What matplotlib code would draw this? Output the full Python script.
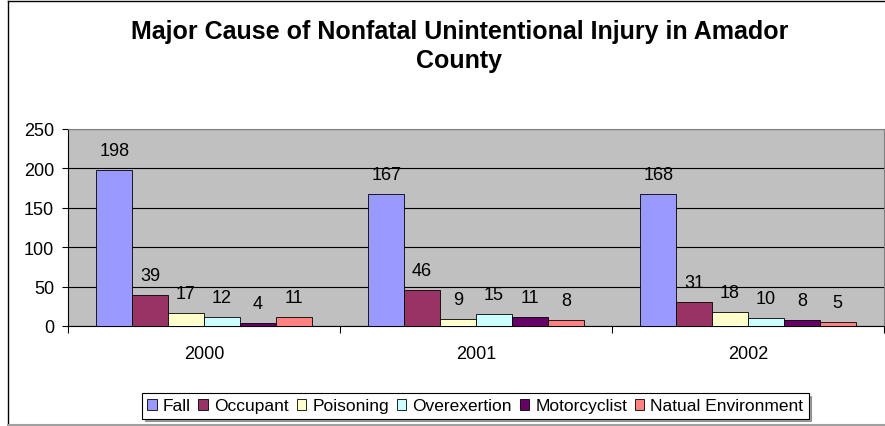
import matplotlib
matplotlib.use('Agg')
import matplotlib.pyplot as plt
from matplotlib.lines import Line2D
import numpy as np

plt.rcParams['font.family'] = ['Liberation Sans', 'DejaVu Sans']

# data
years = ['2000', '2001', '2002']
causes = ['Fall', 'Occupant', 'Poisoning', 'Overexertion', 'Motorcyclist', 'Natual Environment']
fall = [198, 167, 168]
occupant = [39, 46, 31]
poisoning = [17, 9, 18]
overexertion = [12, 15, 10]
motorcyclist = [4, 11, 8]
natural_env = [11, 8, 5]
colors = ['#9999FF', '#993366', '#FFFFCC', '#CCFFFF', '#660066', '#FF8080']

series = [fall, occupant, poisoning, overexertion, motorcyclist, natural_env]

fig = plt.figure(figsize=(8.85, 4.27), dpi=100)
ax = fig.add_axes([68/885, 100/427, 816/885, 197/427])
ax.set_facecolor('#C0C0C0')

w = 0.132
centers = np.arange(len(years)) + 0.5
for i, vals in enumerate(series):
    xpos = centers + (i - 2.5) * w
    ax.bar(xpos, vals, width=w, color=colors[i], edgecolor='black', linewidth=0.6,
           label=causes[i], zorder=3)
    for x, v in zip(xpos, vals):
        ax.annotate(str(v), (x, v), xytext=(0, 14), textcoords='offset points',
                    ha='center', va='center', fontsize=13)

ax.set_xlim(0, 3)
ax.set_ylim(0, 250)
ax.set_yticks([0, 50, 100, 150, 200, 250])
ax.tick_params(axis='y', length=4, width=0.8, pad=6, labelsize=13, direction='out')
ax.set_xticks([0, 1, 2, 3])
ax.set_xticklabels([])
ax.tick_params(axis='x', which='major', length=5, width=0.8, direction='out')
ax.set_xticks(centers, minor=True)
ax.set_xticklabels(years, minor=True)
ax.tick_params(axis='x', which='minor', length=0, pad=14, labelsize=13)

ax.set_axisbelow(True)
ax.yaxis.grid(True, color='black', linewidth=0.8)
ax.spines['top'].set_color('#808080')
ax.spines['right'].set_color('#808080')
ax.spines['left'].set_linewidth(0.8)
ax.spines['bottom'].set_linewidth(0.8)

fig.text(0.519, 0.891, 'Major Cause of Nonfatal Unintentional Injury in Amador\nCounty',
         ha='center', va='center', fontsize=18, fontweight='bold', linespacing=1.3)

leg = fig.legend(loc='center', bbox_to_anchor=(0.537, 0.047), ncol=6, fontsize=12.5,
                 frameon=True, fancybox=False, edgecolor='black', shadow=True,
                 handlelength=0.55, handleheight=0.55, handletextpad=0.35,
                 columnspacing=0.45, borderpad=0.3, borderaxespad=0)
leg.get_frame().set_linewidth(0.8)

# outer chart frame
fig.add_artist(Line2D([8/885, 8/885], [1/427, 425/427], transform=fig.transFigure, color='black', lw=1))
fig.add_artist(Line2D([8/885, 1], [425/427, 425/427], transform=fig.transFigure, color='black', lw=1))
fig.add_artist(Line2D([8/885, 1], [1/427, 1/427], transform=fig.transFigure, color='#A0A0A0', lw=1.5))

fig.savefig('out.png', dpi=100)
